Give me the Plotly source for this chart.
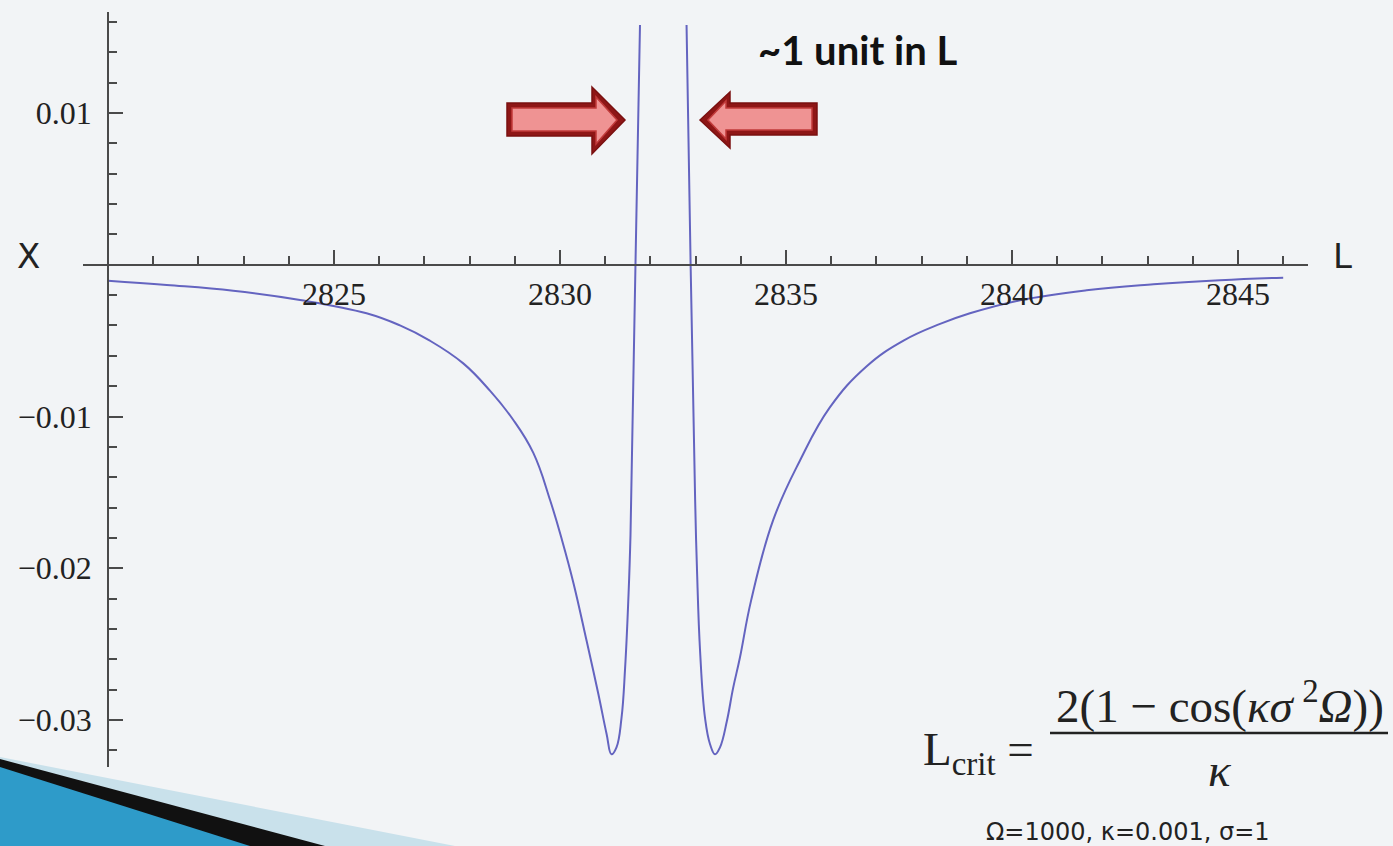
import plotly.graph_objects as go

# ---- data ----
L_left = [2820.0, 2821.3, 2822.77, 2824.25, 2825.72, 2826.46, 2827.12, 2827.86, 2828.45,
          2828.96, 2829.41, 2829.78, 2830.05, 2830.3, 2830.59, 2830.85, 2831.03, 2831.14,
          2831.25, 2831.36, 2831.44, 2831.51, 2831.56, 2831.67, 2831.77]
X_left = [-0.00105, -0.00133, -0.00171, -0.00232, -0.0032, -0.0040, -0.0050, -0.0065, -0.0083,
          -0.0102, -0.0124, -0.0155, -0.0182, -0.0210, -0.0248, -0.0283, -0.0309, -0.03226,
          -0.0318, -0.0299, -0.0266, -0.0222, -0.0178, 0.0, 0.0158]

L_right = [2832.80, 2832.89, 2832.99, 2833.03, 2833.10, 2833.21, 2833.32, 2833.43, 2833.54,
           2833.69, 2833.83, 2833.98, 2834.23, 2834.72, 2835.31, 2835.97, 2836.78, 2837.6,
           2838.41, 2839.07, 2840.18, 2841.65, 2843.13, 2844.6, 2846.0]
X_right = [0.0158, 0.0, -0.0155, -0.0200, -0.0255, -0.0299, -0.0316, -0.03226, -0.0318,
           -0.0301, -0.0279, -0.0259, -0.0221, -0.0168, -0.0129, -0.0094, -0.0067, -0.0050,
           -0.0039, -0.0032, -0.00234, -0.00168, -0.00129, -0.00102, -0.00085]

x_major = [2825, 2830, 2835, 2840, 2845]
x_minor = [v for v in range(2821, 2847) if v % 5 != 0]
y_major = [-0.03, -0.02, -0.01, 0.01]
y_major_text = ["\u22120.03", "\u22120.02", "\u22120.01", "0.01"]
y_minor = [round(-0.032 + 0.002 * i, 3) for i in range(25)]
y_minor = [v for v in y_minor if all(abs(v - m) > 1e-9 for m in y_major + [0.0])]

X_RANGE = [2819.447, 2846.549]
Y_RANGE = [-0.033097, 0.016656]

# ---- layout geometry (pixels) ----
W, H = 1393, 846
PL, PR, PT, PB = 83, 1308, 12, 767


def xp(px):
    return (px - PL) / (PR - PL)


def yp(py):
    return (PB - py) / (PB - PT)


def poly(points):
    return "M " + " L ".join(f"{xp(a):.5f},{yp(b):.5f}" for a, b in points) + " Z"


BG = "#F2F4F6"
AX = "#4a4a4a"
CURVE = "#6464C0"

fig = go.Figure()
for Ls, Xs in [(L_left, X_left), (L_right, X_right)]:
    fig.add_trace(go.Scatter(x=Ls, y=Xs, mode="lines",
                             line=dict(color=CURVE, width=2, shape="spline", smoothing=1.2),
                             hoverinfo="skip", showlegend=False))

ypos_xaxis = (0 - Y_RANGE[0]) / (Y_RANGE[1] - Y_RANGE[0])
xpos_yaxis = (2820 - X_RANGE[0]) / (X_RANGE[1] - X_RANGE[0])

tickfont = dict(family="Liberation Serif", size=32, color="#222")

fig.update_layout(
    width=W, height=H,
    margin=dict(l=PL, r=W - PR, t=PT, b=H - PB, autoexpand=False),
    paper_bgcolor=BG, plot_bgcolor=BG,
    showlegend=False,
    xaxis=dict(range=X_RANGE, anchor="free", position=ypos_xaxis, automargin=False,
               showline=True, linecolor=AX, linewidth=1.5,
               showgrid=False, zeroline=False,
               tickmode="array", tickvals=x_major, ticktext=[str(v) for v in x_major],
               ticks="inside", ticklen=14, tickwidth=1.5, tickcolor=AX,
               minor=dict(tickmode="array", tickvals=x_minor, ticks="inside",
                          ticklen=8, tickwidth=1.5, tickcolor=AX, showgrid=False),
               tickfont=tickfont, ticklabelstandoff=1),
    yaxis=dict(range=Y_RANGE, anchor="free", position=xpos_yaxis, automargin=False,
               showline=True, linecolor=AX, linewidth=1.5,
               showgrid=False, zeroline=False,
               tickmode="array", tickvals=y_major, ticktext=y_major_text,
               ticks="inside", ticklen=14, tickwidth=1.5, tickcolor=AX,
               minor=dict(tickmode="array", tickvals=y_minor, ticks="inside",
                          ticklen=8, tickwidth=1.5, tickcolor=AX, showgrid=False),
               tickfont=tickfont, ticklabelstandoff=9),
)

shapes = []
# bottom-left theme decoration
shapes.append(dict(type="path", xref="paper", yref="paper", layer="below",
                   path=poly([(0, 757), (455, 846), (0, 846)]),
                   fillcolor="#C9E1EB", line=dict(width=0)))
shapes.append(dict(type="path", xref="paper", yref="paper", layer="below",
                   path=poly([(0, 759), (325, 846), (0, 846)]),
                   fillcolor="#111111", line=dict(width=0)))
shapes.append(dict(type="path", xref="paper", yref="paper", layer="below",
                   path=poly([(0, 767), (250, 846), (0, 846)]),
                   fillcolor="#2E9BC9", line=dict(width=0)))

# arrows
arrow_r_outer = [(507, 103), (592, 103), (592, 87), (625, 120), (592, 154), (592, 136), (507, 136)]
arrow_r_inner = [(512, 108), (596, 108), (596, 97), (617, 120), (596, 144), (596, 131), (512, 131)]
arrow_l_outer = [(700, 120), (730, 92), (730, 103), (817, 103), (817, 135), (730, 135), (730, 148)]
arrow_l_inner = [(708, 120), (726, 101), (726, 108), (812, 108), (812, 130), (726, 130), (726, 139)]
for outer, inner in [(arrow_r_outer, arrow_r_inner), (arrow_l_outer, arrow_l_inner)]:
    shapes.append(dict(type="path", xref="paper", yref="paper", path=poly(outer),
                       fillcolor="#8E1616", line=dict(color="#7A1010", width=1.5)))
    shapes.append(dict(type="path", xref="paper", yref="paper", path=poly(inner),
                       fillcolor="#EF9393", line=dict(color="#C13A3A", width=1.5)))

# fraction bar
shapes.append(dict(type="line", xref="paper", yref="paper",
                   x0=xp(1050), x1=xp(1388), y0=yp(733), y1=yp(733),
                   line=dict(color="#222", width=2.5)))
fig.update_layout(shapes=shapes)

ann = []


def add_text(text, px, py, font, xanchor="center"):
    ann.append(dict(text=text, x=xp(px), y=yp(py), xref="paper", yref="paper",
                    showarrow=False, xanchor=xanchor, yanchor="middle", font=font))


add_text("X", 28, 256, dict(family="DejaVu Sans", size=34, color="#222"))
add_text("L", 1342, 256, dict(family="DejaVu Sans", size=34, color="#222"))
add_text("<b>~1 unit in L</b>", 857, 50, dict(family="Lato", size=40, color="#111"))
serif = dict(family="Liberation Serif", size=47, color="#222")
add_text("2(1 \u2212 cos(<i>\u03ba\u03c3</i>\u2009<sup>2</sup><i>\u03a9</i>))", 1220, 702, serif)
add_text("<i>\u03ba</i>", 1220, 770, serif)
add_text("L<sub>crit</sub> =", 1036, 752, serif, xanchor="right")
add_text("\u03a9=1000, \u03ba=0.001, \u03c3=1", 1128, 832,
         dict(family="DejaVu Sans", size=24, color="#222"))
fig.update_layout(annotations=ann)

fig.write_html("out.html", config={"displayModeBar": False},
               post_script="document.body.style.margin='0';document.body.style.overflow='hidden';")
